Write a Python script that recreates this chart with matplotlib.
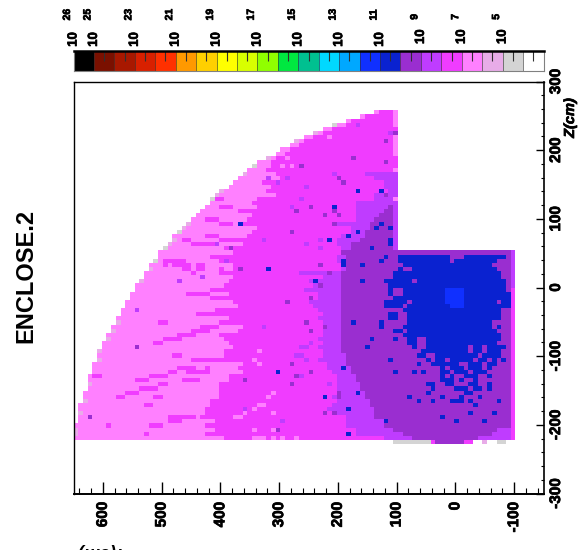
import numpy as np
import matplotlib
matplotlib.use("Agg")
import matplotlib.pyplot as plt
import matplotlib.patheffects as pe
from matplotlib.colors import ListedColormap, BoundaryNorm
from matplotlib.patches import Rectangle
from matplotlib.ticker import MultipleLocator

plt.rcParams['font.family'] = 'Liberation Sans'
plt.rcParams['font.weight'] = 'bold'
plt.rcParams['axes.unicode_minus'] = False

W, H = 580, 555

# --- colour bar, top to bottom of the scale ---
bar_colors = ['#000000', '#7a1000', '#a81800', '#d82000', '#ff3000', '#ff9900',
              '#ffd000', '#ffff00', '#d8ff00', '#90ff00', '#00e840', '#00c090',
              '#00d8ff', '#00a8ff', '#1030ff', '#0a22d0', '#9a2ed0', '#bf3cff',
              '#f03cff', '#ff80ff', '#e8ace8', '#d4d4d4', '#ffffff']
bar_label_edges = [0, 1, 3, 5, 7, 9, 11, 13, 15, 17, 19, 21]
bar_exponents = [26, 25, 23, 21, 19, 17, 15, 13, 11, 9, 7, 5]

# levels used in the map, index into map_colors
WHITE, GREY, PALE, PINK, MAG, LILAC, PURPLE, BLUE, BRIGHT = range(9)
map_colors = ['#ffffff', '#d4d4d4', '#e8ace8', '#ff80ff', '#f03cff', '#bf3cff',
              '#9a2ed0', '#0a22d0', '#1030ff']

# --- map cells: 100 x 100 bins, row 0 at the top (Z=300), col 0 at the left (r=650) ---
first_row = 7
outer_col = [64, 61, 58, 55, 53, 51, 49, 47, 46, 44,
             43, 41, 39, 38, 37, 36, 35, 34, 33, 32,
             31, 30, 29, 28, 27, 26, 25, 24, 23, 22,
             21, 21, 20, 19, 18, 18, 17, 16, 16, 15,
             15, 14, 13, 13, 12, 12, 11, 11, 10, 10,
             9, 9, 8, 8, 7, 7, 6, 6, 5, 5,
             5, 4, 4, 4, 3, 3, 3, 3, 2, 2,
             2, 1, 1, 1, 1, 1, 0, 0, 0, 0]
pink_end = [65, 62, 59, 58, 55, 53, 51, 49, 48, 46,
            45, 43, 42, 42, 41, 43, 44, 40, 42, 41,
            43, 39, 38, 39, 35, 38, 37, 36, 39, 38,
            37, 35, 36, 32, 34, 37, 31, 34, 34, 34,
            34, 33, 32, 33, 33, 31, 34, 35, 31, 30,
            33, 31, 36, 35, 31, 32, 33, 34, 32, 32,
            33, 36, 35, 36, 33, 33, 31, 31, 31, 31,
            29, 29, 28, 28, 27, 30, 28, 30, 28, 32]
lilac_start = [69, 69, 69, 69, 69, 69, 69, 69, 69, 69,
               69, 69, 69, 69, 69, 62, 64, 66, 66, 67,
               64, 64, 60, 60, 60, 60, 60, 55, 59, 59,
               57, 56, 56, 57, 57, 56, 56, 57, 57, 48,
               53, 50, 51, 49, 52, 52, 50, 51, 52, 53,
               52, 53, 53, 53, 53, 52, 53, 52, 53, 53,
               53, 54, 54, 55, 56, 56, 56, 56, 57, 55,
               56, 55, 54, 55, 58, 58, 58, 60, 60, 66]
purple_start = [69, 69, 69, 69, 69, 69, 69, 69, 69, 69,
                69, 69, 69, 69, 69, 69, 69, 69, 69, 69,
                69, 69, 68, 67, 66, 65, 64, 63, 63, 62,
                62, 61, 59, 59, 58, 58, 58, 58, 58, 57,
                57, 57, 57, 57, 57, 57, 57, 57, 57, 57,
                57, 57, 57, 57, 57, 57, 57, 57, 57, 58,
                58, 58, 59, 59, 60, 60, 61, 61, 62, 62,
                63, 63, 64, 64, 65, 66, 67, 68, 70, 72]
right_end = [69] * 34 + [94] * 46

blue_runs = {
    42: [(69, 80), (83, 92)], 43: [(69, 80), (81, 90)], 44: [(70, 89)],
    45: [(69, 70), (72, 90)], 46: [(68, 91)], 47: [(68, 91)],
    48: [(66, 72), (73, 92)], 49: [(67, 92)], 50: [(67, 68), (70, 92)],
    51: [(67, 68), (70, 93)], 52: [(68, 93)], 53: [(66, 71), (72, 90), (91, 93)],
    54: [(66, 70), (71, 93)], 55: [(70, 91)], 56: [(67, 69), (71, 91)],
    57: [(67, 69), (71, 91)], 58: [(71, 89)], 59: [(70, 89), (90, 91)],
    60: [(71, 90)], 61: [(70, 91)], 62: [(71, 73), (75, 91)],
    63: [(71, 73), (75, 90)], 64: [(72, 73), (75, 84), (85, 87), (88, 92)],
    65: [(74, 84), (85, 87), (88, 91)], 66: [(73, 75), (77, 86), (87, 91)],
    67: [(75, 76), (77, 79), (80, 85), (86, 88), (89, 90), (91, 92)],
    68: [(76, 79), (79, 82), (84, 87), (88, 90)],
    69: [(78, 79), (80, 83), (84, 87), (88, 89)],
    70: [(78, 80), (81, 84), (85, 88)],
    71: [(78, 79), (80, 81), (83, 86), (88, 89)],
    72: [(78, 81), (82, 83), (85, 86)],
    73: [(75, 77), (79, 81), (84, 86), (88, 89)],
    74: [(76, 77), (81, 84), (85, 87), (88, 89)],
    75: [(75, 76), (83, 85)],
}
bright_runs = [(50, 79, 83), (51, 79, 83), (52, 79, 83), (53, 79, 83), (54, 80, 83)]

# streaks: row, first col, end col, level
streaks = [
    (28, 30, 32, MAG), (30, 31, 34, MAG), (33, 28, 31, MAG), (34, 31, 34, MAG),
    (37, 28, 31, MAG), (38, 23, 25, MAG), (38, 31, 35, MAG), (39, 25, 31, MAG),
    (42, 29, 39, MAG), (43, 19, 24, MAG), (44, 19, 20, MAG), (44, 21, 25, MAG),
    (44, 26, 28, MAG), (45, 23, 25, MAG), (45, 26, 28, MAG), (45, 31, 32, MAG),
    (46, 25, 26, MAG), (46, 31, 35, MAG), (50, 29, 34, MAG), (51, 24, 29, MAG),
    (52, 29, 32, MAG), (55, 30, 33, MAG), (56, 26, 30, MAG), (58, 18, 20, MAG),
    (59, 27, 31, MAG), (60, 25, 29, MAG), (61, 22, 26, MAG), (62, 19, 23, MAG),
    (63, 17, 19, MAG), (66, 21, 23, MAG), (67, 25, 34, MAG), (69, 22, 26, MAG),
    (69, 28, 29, MAG), (70, 20, 22, MAG), (70, 24, 29, MAG), (71, 16, 20, MAG),
    (71, 4, 6, MAG), (72, 13, 16, MAG), (72, 23, 27, MAG), (73, 18, 20, MAG),
    (74, 14, 18, MAG), (75, 11, 14, MAG), (76, 9, 11, MAG), (76, 17, 19, MAG),
    (78, 15, 17, MAG), (81, 20, 26, MAG), (82, 20, 23, MAG), (83, 16, 19, MAG),
    (83, 7, 8, MAG), (85, 15, 16, MAG),
    (75, 42, 43, PINK), (76, 41, 42, PINK), (78, 39, 41, PINK), (79, 38, 39, PINK),
    (80, 42, 43, PINK), (80, 36, 37, PINK), (81, 34, 36, PINK), (84, 38, 39, PINK),
    (84, 42, 43, PINK), (86, 38, 41, PINK), (86, 42, 43, PINK), (86, 44, 45, PINK),
    (86, 47, 48, PINK), (65, 39, 40, PINK), (67, 38, 39, PINK), (68, 39, 40, PINK),
    (18, 45, 46, PINK), (20, 46, 47, PINK), (20, 44, 45, PINK), (13, 54, 55, PINK),
    (46, 48, 54, LILAC), (50, 49, 51, LILAC), (54, 51, 54, LILAC),
    (86, 86, 94, LILAC), (85, 89, 93, LILAC), (84, 90, 93, LILAC),
]
# single-column runs: col, first row, end row, level
column_runs = [
    (68, 7, 11, PINK), (68, 13, 18, PINK), (68, 21, 22, PINK), (68, 28, 29, PINK),
    (68, 29, 41, LILAC), (93, 41, 50, LILAC), (93, 50, 87, MAG),
]
# single cells: row, col
blue_cells = [
    (30, 55), (34, 65), (35, 64), (35, 67), (36, 60), (37, 58), (38, 54), (38, 67),
    (39, 67), (40, 63), (42, 66), (43, 65), (43, 57), (44, 57), (44, 61), (48, 51),
    (48, 61), (58, 59), (58, 65), (59, 65), (60, 68), (60, 69), (62, 63), (62, 68),
    (64, 62), (67, 67), (68, 73), (69, 57), (70, 68), (70, 72), (70, 74), (73, 75),
    (73, 76), (75, 60), (75, 75), (76, 53), (76, 71), (76, 78), (76, 82), (76, 86),
    (77, 73), (77, 76), (77, 84), (77, 90), (77, 80), (77, 81), (77, 82), (78, 85),
    (79, 58), (80, 84), (80, 89), (81, 78), (82, 66), (82, 81), (82, 87), (85, 58),
    (26, 60), (26, 65), (34, 35), (45, 41), (70, 43),
]
purple_cells = [
    (30, 50), (32, 53), (31, 55), (32, 56), (34, 55), (41, 57), (44, 52), (46, 54),
    (49, 52), (52, 50), (58, 49), (59, 53), (60, 50), (70, 50), (76, 56), (80, 53),
    (80, 55), (81, 64), (12, 68), (14, 66), (18, 59), (19, 66), (20, 48), (23, 56),
    (24, 57), (27, 66), (31, 47), (36, 46), (40, 33), (45, 35), (53, 45), (64, 13),
    (68, 46), (71, 47), (72, 36), (73, 46), (81, 3), (84, 43), (75, 56), (83, 66),
]
lilac_cells = [
    (10, 60), (12, 67), (23, 45), (25, 49), (22, 55), (28, 48), (30, 46), (38, 40),
    (39, 49), (38, 52), (40, 52), (39, 30), (43, 32), (55, 53), (59, 40), (24, 43),
    (23, 41), (46, 49), (46, 50), (47, 27), (48, 22), (50, 49), (55, 13), (64, 49),
    (66, 47), (66, 48), (67, 49), (71, 48), (82, 44), (79, 36), (64, 48), (63, 50),
    (67, 52), (73, 54),
]
rim_grey = [(20, 38), (10, 55), (28, 29), (40, 19), (43, 17), (36, 22)]
rim_pale = [
    (18, 41), (22, 36), (14, 47), (12, 51), (27, 30), (26, 31), (35, 23), (34, 24),
    (38, 21), (39, 20), (45, 16), (48, 14), (58, 9), (60, 8), (62, 7), (65, 5),
    (67, 5), (73, 3), (77, 2), (80, 1), (84, 0), (85, 0),
]
bottom_row = 87
bottom_runs = [(68, 76, GREY), (76, 77, MAG), (77, 83, PURPLE), (83, 85, MAG),
               (87, 88, PALE), (90, 92, GREY)]

grid = np.zeros((100, 100), dtype=int)
for i in range(len(outer_col)):
    k = first_row + i
    grid[k, outer_col[i]:right_end[i]] = MAG
    grid[k, outer_col[i]:pink_end[i]] = PINK
    grid[k, lilac_start[i]:right_end[i]] = LILAC
    grid[k, purple_start[i]:right_end[i]] = PURPLE
for k, runs in blue_runs.items():
    for c0, c1 in runs:
        grid[k, c0:c1] = BLUE
for k, c0, c1, lev in streaks:
    grid[k, c0:c1] = lev
for k, c0, c1 in bright_runs:
    grid[k, c0:c1] = BRIGHT
for c, k0, k1, lev in column_runs:
    grid[k0:k1, c] = lev
for k, c in purple_cells:
    grid[k, c] = PURPLE
for k, c in lilac_cells:
    grid[k, c] = LILAC
for k, c in blue_cells:
    grid[k, c] = BLUE
for k, c in rim_pale:
    grid[k, c] = PALE
for k, c in rim_grey:
    grid[k, c] = GREY
for c0, c1, lev in bottom_runs:
    grid[bottom_row, c0:c1] = lev

r_edges = np.linspace(650, -150, 101)
z_edges = np.linspace(300, -300, 101)

fig = plt.figure(figsize=(W / 100, H / 100), dpi=100)
heavy = [pe.withStroke(linewidth=0.5, foreground='black')]


def px_axes(x0, y0, x1, y1):
    return fig.add_axes([x0 / W, 1 - y1 / H, (x1 - x0) / W, (y1 - y0) / H])


# --- main map ---
ax = px_axes(73.5, 81.5, 543.5, 493.5)
cmap = ListedColormap(map_colors)
norm = BoundaryNorm(np.arange(len(map_colors) + 1) - 0.5, cmap.N)
ax.pcolormesh(r_edges, z_edges, grid, cmap=cmap, norm=norm, linewidth=0)
ax.set_xlim(650, -150)
ax.set_ylim(-300, 300)
ax.xaxis.set_minor_locator(MultipleLocator(20))
ax.yaxis.set_minor_locator(MultipleLocator(20))
ax.set_xticks([600, 500, 400, 300, 200, 100, 0, -100])
ax.set_xticklabels(['600', '500', '400', '300', '200', '100', '0', '-100'],
                   rotation=90, fontsize=11, fontweight='bold', path_effects=heavy)
ax.set_yticks([-300, -200, -100, 0, 100, 200, 300])
ax.set_yticklabels(['-300', '-200', '-100', '0', '100', '200', '300'],
                   rotation=90, va='center', fontsize=11, fontweight='bold',
                   path_effects=heavy)
ax.yaxis.tick_right()
ax.tick_params(axis='x', which='major', direction='in', length=8.5, width=1.0, pad=6)
ax.tick_params(axis='x', which='minor', direction='in', length=4.3, width=0.8)
ax.tick_params(axis='y', which='major', direction='in', length=5.5, width=1.0, pad=4)
ax.tick_params(axis='y', which='minor', direction='in', length=2.5, width=0.8)
for spine in ax.spines.values():
    spine.set_linewidth(1.0)
ax.spines['bottom'].set_linewidth(1.4)
ax.spines['right'].set_linewidth(1.2)

# --- colour bar ---
cax = px_axes(73.5, 51, 543.5, 71)
bar_cmap = ListedColormap(bar_colors)
cax.pcolormesh(np.arange(len(bar_colors) + 1), [0, 1],
               np.arange(len(bar_colors)).reshape(1, -1), cmap=bar_cmap)
cax.vlines(np.arange(1, len(bar_colors)), 0, 1, color='#303030', lw=0.6, alpha=0.7)
cax.set_xlim(0, len(bar_colors))
cax.set_ylim(0, 1)
cax.set_yticks([])
cax.set_xticks(np.arange(1, len(bar_colors)) + 0.5)
cax.tick_params(axis='x', direction='in', top=True, bottom=False, labelbottom=False,
                length=7, width=0.8, color='#303030')
cax.spines['top'].set_linewidth(1.8)
for side in ['left', 'right', 'bottom']:
    cax.spines[side].set_color('#808080')
    cax.spines[side].set_linewidth(0.8)

for edge, exp in zip(bar_label_edges, bar_exponents):
    low = exp < 10
    cax.annotate('10', (edge, 1), xytext=(0, 3.0 if not low else 5.0),
                 textcoords='offset points', rotation=90, ha='center', va='bottom',
                 fontsize=9.5, fontweight='bold', annotation_clip=False,
                 path_effects=heavy)
    cax.annotate(str(exp), (edge, 1), xytext=(-4.7, 22 if not low else 22.5),
                 textcoords='offset points', rotation=90, ha='center', va='bottom',
                 fontsize=7.5, fontweight='bold', annotation_clip=False,
                 path_effects=heavy)

# --- text around the frame ---
fig.text(26 / W, 1 - 275.5 / H, 'ENCLOSE.2', rotation=90, ha='center', va='center',
         fontsize=17, fontweight='bold')
fig.text(570 / W, 1 - 118 / H, 'Z(cm)', rotation=90, ha='center', va='center',
         fontsize=10.5, fontweight='bold', fontstyle='italic', path_effects=heavy)
# axis title of the original page, mostly cut off at the page edge
rtitle = fig.text(99 / W, 1 - 543 / H, 'r(cm)', rotation=180, ha='center', va='top',
                  fontsize=13, fontweight='bold', fontstyle='italic')
rtitle.set_clip_path(Rectangle((0, 1 - 549.5 / H), 1, 549.5 / H,
                               transform=fig.transFigure))
rtitle.set_clip_on(True)

fig.savefig('out.png', dpi=100)
